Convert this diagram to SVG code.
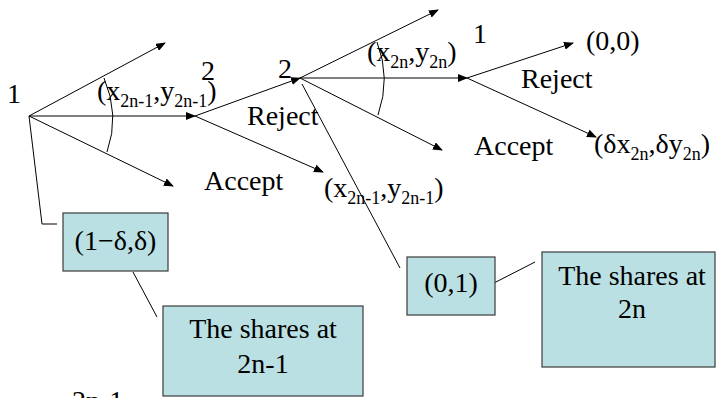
<svg xmlns="http://www.w3.org/2000/svg" width="718" height="398" viewBox="0 0 718 398">
<defs>
<marker id="ah" markerWidth="10" markerHeight="8" refX="9" refY="4" orient="auto" markerUnits="userSpaceOnUse">
<path d="M0,0 L10,4 L0,8 Z" fill="#000"/>
</marker>
</defs>
<rect width="718" height="398" fill="#fff"/>
<g id="connectors" stroke="#000" stroke-width="1" fill="none">
<g marker-end="url(#ah)">
<line x1="29" y1="116" x2="165" y2="43"/>
<line x1="29" y1="116" x2="195" y2="116"/>
<line x1="29" y1="116" x2="173" y2="186"/>
<line x1="195" y1="116" x2="300" y2="78"/>
<line x1="195" y1="116" x2="323" y2="172"/>
<line x1="300" y1="78" x2="438" y2="10"/>
<line x1="300" y1="78" x2="467" y2="78"/>
<line x1="300" y1="78" x2="442" y2="150"/>
<line x1="467" y1="78" x2="573" y2="43"/>
<line x1="467" y1="78" x2="596" y2="137"/>
</g>
<path d="M104,78 Q120,115 107,152"/>
<polyline points="29,116 42,224 57,224"/>
<path d="M377,42 Q391,78 378,115"/>
<line x1="302" y1="84" x2="400" y2="268"/>
<line x1="133" y1="272" x2="157" y2="317"/>
<line x1="494" y1="283" x2="535" y2="262"/>
</g>
<g id="labels" font-family="Liberation Serif" font-size="28" fill="#000">
<text x="7" y="103">1</text>
<text x="97" y="100">(x<tspan font-size="18" dy="7">2n-1</tspan><tspan dy="-7">,y</tspan><tspan font-size="18" dy="7">2n-1</tspan><tspan dy="-7">)</tspan></text>
<text x="201" y="80">2</text>
<text x="278" y="78">2</text>
<text x="367" y="61">(x<tspan font-size="18" dy="7">2n</tspan><tspan dy="-7">,y</tspan><tspan font-size="18" dy="7">2n</tspan><tspan dy="-7">)</tspan></text>
<text x="473" y="43">1</text>
<text x="586" y="50">(0,0)</text>
<text x="521" y="88">Reject</text>
<text x="474" y="155">Accept</text>
<text x="594" y="153">(δx<tspan font-size="18" dy="7">2n</tspan><tspan dy="-7">,δy</tspan><tspan font-size="18" dy="7">2n</tspan><tspan dy="-7">)</tspan></text>
<text x="247" y="125">Reject</text>
<text x="204" y="190">Accept</text>
<text x="324" y="197">(x<tspan font-size="18" dy="7">2n-1</tspan><tspan dy="-7">,y</tspan><tspan font-size="18" dy="7">2n-1</tspan><tspan dy="-7">)</tspan></text>
<text x="72" y="410">2n-1</text>
</g>
<g id="box-share1" font-family="Liberation Serif" font-size="28" fill="#000">
<rect x="63" y="213" width="105" height="58" fill="#bbe0e3" stroke="#3a3a3a" stroke-width="1.2"/>
<text x="115.5" y="250" text-anchor="middle">(1−δ,δ)</text>
</g>
<g id="box-label1" font-family="Liberation Serif" font-size="28" fill="#000">
<rect x="163" y="306" width="200" height="90" fill="#bbe0e3" stroke="#3a3a3a" stroke-width="1.2"/>
<text x="263" y="338" text-anchor="middle">The shares at</text>
<text x="263" y="373" text-anchor="middle">2n-1</text>
</g>
<g id="box-share2" font-family="Liberation Serif" font-size="28" fill="#000">
<rect x="407" y="257" width="88" height="58" fill="#bbe0e3" stroke="#3a3a3a" stroke-width="1.2"/>
<text x="451" y="292" text-anchor="middle">(0,1)</text>
</g>
<g id="box-label2" font-family="Liberation Serif" font-size="28" fill="#000">
<rect x="542" y="252" width="173" height="115" fill="#bbe0e3" stroke="#3a3a3a" stroke-width="1.2"/>
<text x="632" y="285" text-anchor="middle">The shares at</text>
<text x="632" y="318" text-anchor="middle">2n</text>
</g>
</svg>
